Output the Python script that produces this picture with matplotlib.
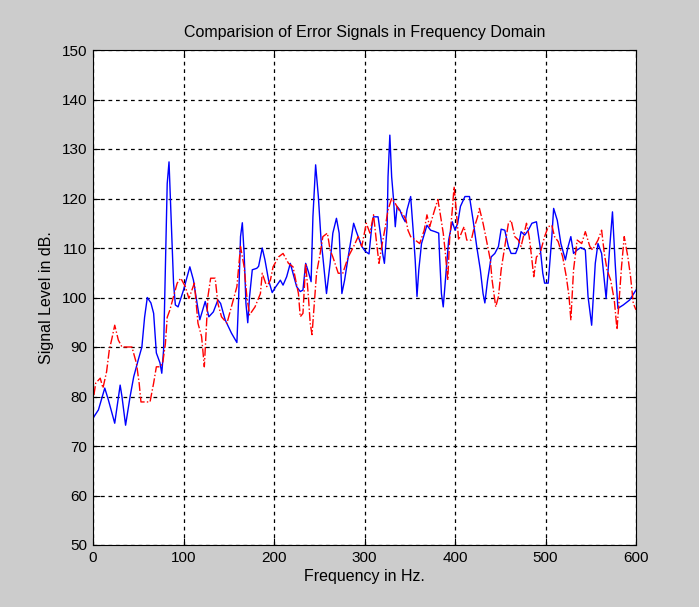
import matplotlib
matplotlib.use("Agg")
import matplotlib.pyplot as plt

# Blue (solid) error signal
blue_f = [1, 6, 13, 17, 24, 30, 32, 36, 41, 45, 50, 54, 57, 60, 64, 67, 70, 74, 76, 78,
          82, 84, 86, 89, 91, 94, 100, 107, 111, 115, 118, 124, 128, 133, 138, 141, 146,
          153, 159, 161, 163, 165, 167, 169, 171, 173, 176, 181, 183, 187, 190, 194, 198,
          201, 207, 210, 214, 218, 221, 225, 229, 232, 235, 238, 241, 243, 246, 249, 252,
          254, 258, 262, 265, 269, 272, 275, 278, 282, 288, 291, 297, 301, 305, 308, 310,
          315, 318, 320, 322, 325, 326, 328, 330, 332, 334, 336, 339, 342, 345, 347, 351,
          354, 356, 358, 360, 363, 369, 373, 378, 382, 383, 385, 387, 390, 393, 397, 400,
          403, 406, 411, 416, 420, 424, 428, 431, 433, 436, 440, 444, 448, 451, 455, 459,
          462, 467, 470, 473, 477, 481, 485, 490, 494, 497, 499, 503, 507, 509, 513, 517,
          522, 525, 528, 531, 535, 539, 544, 547, 551, 555, 558, 562, 567, 571, 574, 577,
          580, 586, 593, 600]
blue_db = [75.9, 77.3, 81.7, 79.3, 74.6, 82.3, 80.0, 74.2, 80.0, 84.0, 87.4, 90.0, 96.0,
           100.0, 98.9, 96.8, 88.8, 86.8, 84.7, 89.4, 123.0, 127.4, 117.7, 102.9, 98.5,
           98.1, 101.5, 106.2, 103.5, 98.8, 95.5, 99.2, 96.1, 97.1, 99.5, 98.8, 95.5, 92.8,
           90.9, 100.2, 112.3, 115.1, 108.9, 98.8, 94.9, 100.2, 105.6, 105.9, 106.3, 110.0,
           107.6, 103.5, 101.0, 101.9, 103.5, 102.5, 104.2, 106.9, 104.9, 102.2, 101.2,
           101.5, 106.9, 105.2, 103.2, 116.3, 126.8, 120.4, 111.6, 108.2, 100.8, 106.9,
           113.0, 116.0, 113.0, 100.8, 103.5, 108.2, 115.0, 113.3, 110.3, 109.3, 108.8,
           114.3, 116.3, 116.3, 112.3, 108.9, 106.9, 114.3, 124.4, 132.8, 124.4, 120.0,
           114.3, 118.4, 117.7, 116.3, 115.3, 117.7, 120.4, 113.0, 107.6, 100.2, 105.6,
           110.9, 114.6, 113.6, 113.3, 113.0, 108.2, 100.8, 98.1, 104.9, 111.6, 115.3,
           113.6, 115.0, 118.4, 120.4, 120.4, 115.6, 110.3, 105.6, 100.8, 98.9, 103.5,
           108.2, 108.9, 110.3, 113.8, 113.6, 110.3, 108.9, 108.9, 110.3, 113.3, 112.6,
           113.6, 115.0, 115.3, 110.3, 104.9, 102.9, 102.9, 112.3, 118.0, 115.6, 110.9,
           107.6, 110.3, 112.3, 108.9, 109.6, 110.1, 109.6, 100.2, 94.4, 106.9, 110.9,
           108.9, 99.8, 110.3, 117.3, 106.9, 97.8, 98.5, 99.5, 101.5]

# Red (dash-dot) error signal
red_f = [1, 3, 8, 11, 15, 18, 21, 24, 28, 32, 39, 43, 48, 51, 53, 63, 67, 70, 74, 77,
         80, 82, 85, 89, 93, 97, 102, 106, 112, 116, 120, 123, 127, 130, 135, 138, 142,
         148, 151, 159, 163, 167, 170, 173, 179, 185, 187, 192, 196, 199, 205, 210, 216,
         221, 227, 229, 232, 235, 238, 240, 242, 244, 247, 251, 254, 259, 262, 265, 271,
         276, 282, 288, 293, 297, 302, 306, 310, 313, 316, 319, 323, 326, 330, 334, 338,
         343, 346, 348, 351, 356, 361, 366, 369, 372, 377, 381, 383, 387, 389, 392, 394,
         397, 399, 401, 404, 407, 410, 413, 418, 421, 425, 427, 431, 434, 439, 441, 443,
         445, 448, 451, 455, 459, 462, 466, 470, 473, 479, 482, 485, 487, 490, 494, 499,
         503, 507, 510, 514, 519, 523, 526, 528, 531, 535, 540, 544, 549, 552, 558, 562,
         565, 568, 572, 576, 579, 584, 587, 591, 594, 597, 600]
red_db = [80.3, 82.7, 83.7, 81.7, 85.0, 89.4, 91.8, 94.4, 91.4, 90.0, 90.0, 90.0, 86.7,
          82.7, 78.9, 78.9, 82.7, 86.0, 86.0, 86.7, 90.7, 96.0, 97.5, 100.2, 102.9, 103.9,
          102.2, 99.8, 102.9, 94.8, 92.1, 86.0, 100.2, 103.9, 103.9, 98.8, 96.1, 94.8,
          96.8, 102.2, 110.3, 106.2, 100.2, 96.5, 98.1, 100.8, 104.9, 102.2, 103.5, 106.2,
          108.2, 108.9, 106.9, 106.2, 100.8, 96.1, 96.8, 106.9, 100.2, 94.8, 92.5, 97.5,
          104.9, 108.9, 112.3, 113.0, 109.6, 108.2, 104.9, 104.9, 108.2, 110.3, 112.3,
          110.3, 115.0, 113.0, 116.7, 111.6, 106.9, 110.3, 114.3, 117.7, 120.0, 119.0,
          117.7, 116.7, 115.6, 113.6, 112.3, 111.6, 110.9, 113.6, 116.7, 114.3, 117.4,
          119.8, 117.7, 113.0, 109.6, 103.5, 111.6, 117.7, 122.4, 118.4, 111.6, 113.0,
          114.3, 111.6, 111.6, 114.0, 116.3, 118.0, 115.0, 112.3, 107.6, 103.5, 100.8,
          98.1, 100.2, 105.6, 110.3, 115.0, 115.6, 112.3, 111.6, 110.3, 115.0, 112.3,
          107.6, 104.2, 108.2, 108.9, 112.3, 114.3, 114.6, 112.3, 111.3, 108.2, 104.2,
          100.2, 95.5, 105.6, 111.6, 110.9, 113.3, 110.3, 109.6, 111.6, 113.6, 108.9,
          105.6, 103.5, 99.5, 93.5, 106.2, 112.3, 108.2, 104.2, 98.8, 97.5]

x_ticks = [0, 100, 200, 300, 400, 500, 600]
y_ticks = [50, 60, 70, 80, 90, 100, 110, 120, 130, 140, 150]

plt.rcParams['font.family'] = ['Liberation Sans Narrow', 'Liberation Sans', 'DejaVu Sans']

fig = plt.figure(figsize=(6.99, 6.07), dpi=100, facecolor='#cccccc')
ax = fig.add_axes([93/699, 1-545/607, (636-93)/699, (545-50)/607])
ax.set_facecolor('white')

ax.plot(blue_f, blue_db, color='#0000ff', linestyle='-', linewidth=1.0)
ax.plot(red_f, red_db, color='#ff0000', linestyle='-.', linewidth=1.0)

ax.set_xlim(0, 600)
ax.set_ylim(50, 150)
ax.set_xticks(x_ticks)
ax.set_yticks(y_ticks)
ax.tick_params(direction='in', length=5, width=0.8, top=True, right=True,
               labelsize=11, colors='black', pad=4)
ax.grid(True, color='black', linestyle=(0, (3, 3)), linewidth=0.9)
for s in ax.spines.values():
    s.set_color('black')
    s.set_linewidth(0.8)

ax.set_title('Comparision of Error Signals in Frequency Domain', fontsize=11.5, pad=9)
ax.set_xlabel('Frequency in Hz.', fontsize=11.5, labelpad=3)
ax.set_ylabel('Signal Level in dB.', fontsize=11.5, labelpad=6)

fig.savefig('out.png', dpi=100, facecolor=fig.get_facecolor())
